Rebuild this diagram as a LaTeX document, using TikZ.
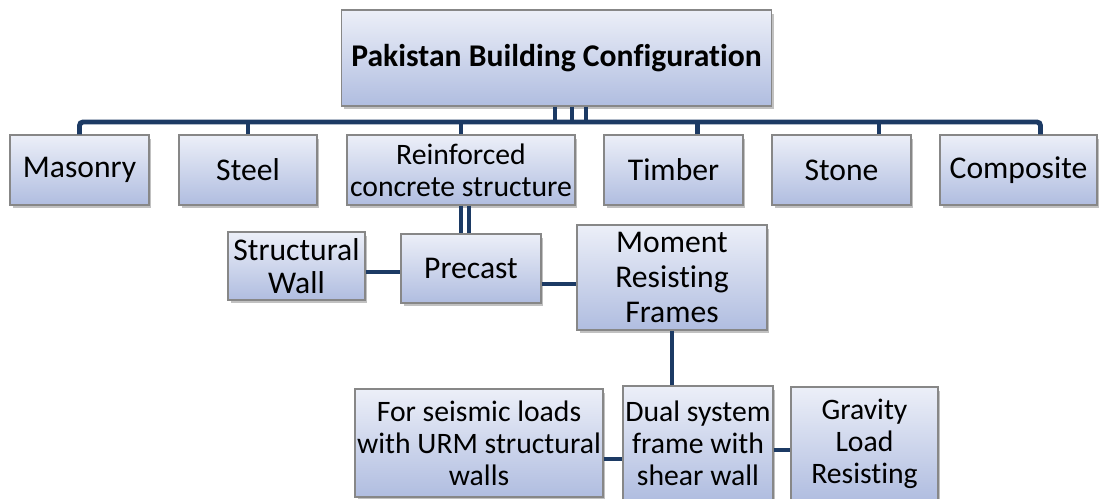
\documentclass[tikz,border=0pt]{standalone}
\usepackage{fontspec}
\setmainfont[Ligatures=NoCommon]{Carlito}
\usetikzlibrary{calc,shadows}
\definecolor{boxtop}{RGB}{236,239,248}
\definecolor{boxbot}{RGB}{176,189,224}
\definecolor{boxline}{RGB}{135,135,135}
\definecolor{linkblue}{RGB}{28,58,100}
\tikzset{
  % Boksar
  cfgbox/.style={draw=boxline,line width=0.6pt,top color=boxtop,bottom color=boxbot,
    inner sep=0pt,align=center,font=\fontsize{18}{18.5}\selectfont,
    drop shadow={shadow xshift=0.05cm,shadow yshift=-0.07cm,opacity=0.35,fill=black!70}},
  smallbox/.style={cfgbox,font=\fontsize{16.9}{18.3}\selectfont},
  titlebox/.style={cfgbox,font=\fontsize{18}{18.5}\selectfont\bfseries},
  % Linjer
  link/.style={draw=linkblue,line width=2.8pt},
  stub/.style={draw=linkblue,line width=2.4pt},
  thin link/.style={draw=linkblue,line width=1.9pt},
}

\begin{document}
\begin{tikzpicture}[x=0.02cm,y=-0.02cm]
  \clip (0,0) rectangle (1100,499);
  \useasboundingbox (0,0) rectangle (1100,499);

  \node[titlebox,minimum width=8.62cm,minimum height=1.92cm] (top) at (556.5,58) {Pakistan Building Configuration};

  \node[cfgbox,minimum width=2.78cm,minimum height=1.40cm] (masonry) at (79.5,170) {Masonry};
  \node[cfgbox,minimum width=2.76cm,minimum height=1.40cm] (steel) at (248,170) {Steel};
  \node[smallbox,minimum width=4.56cm,minimum height=1.40cm] (reinf) at (461,170) {Reinforced\\concrete structure};
  \node[cfgbox,minimum width=2.78cm,minimum height=1.40cm] (timber) at (673.5,170) {Timber};
  \node[cfgbox,minimum width=2.78cm,minimum height=1.40cm] (stone) at (841.5,170) {Stone};
  \node[cfgbox,minimum width=3.14cm,minimum height=1.40cm] (composite) at (1018.5,170) {Composite};

  \node[cfgbox,minimum width=2.74cm,minimum height=1.36cm] (wall) at (296.5,266) {Structural\\Wall};
  \node[cfgbox,minimum width=2.80cm,minimum height=1.38cm] (precast) at (471,268.5) {Precast};
  \node[cfgbox,minimum width=3.80cm,minimum height=2.10cm,font=\fontsize{18}{20}\selectfont] (moment) at (672,277.5) {Moment\\Resisting\\Frames};

  \node[smallbox,minimum width=4.96cm,minimum height=2.16cm] (seismic) at (479,443) {For seismic loads\\with URM structural\\walls};
  \node[smallbox,minimum width=3.00cm,minimum height=2.28cm] (dual) at (698,443) {Dual system\\frame with\\shear wall};
  \node[smallbox,minimum width=2.94cm,minimum height=2.28cm] (gravity) at (864.5,444) {Gravity\\Load\\Resisting};

  % samleskinne under toppboksen
  \coordinate (bus) at (0,122);
  \foreach \dx in {-0.03cm,0.31cm,0.59cm}
    \draw[stub] ([xshift=\dx]top.south) -- ([xshift=\dx]top.south |- bus);
  \draw[link,rounded corners=2pt] (masonry.north) |- ([xshift=0.44cm]composite.north |- bus) -- ([xshift=0.44cm]composite.north);
  \foreach \n/\dx in {steel/0cm,reinf/0cm,timber/0.48cm,stone/0.75cm}
    \draw[link] ([xshift=\dx]\n.north) -- ([xshift=\dx]\n.north |- bus);

  % armert betong
  \foreach \dx in {0cm,0.16cm}
    \draw[thin link] ([xshift=\dx]reinf.south) -- ([xshift=\dx]reinf.south |- precast.north);
  \draw[link] ([yshift=-0.12cm]wall.east) -- ([yshift=-0.12cm]wall.east -| precast.west);
  \draw[link] ([yshift=-0.31cm]precast.east) -- ([yshift=-0.31cm]precast.east -| moment.west);
  \draw[link] (moment.south) -- (moment.south |- dual.north);
  \draw[link] ([yshift=-0.32cm]seismic.east) -- ([yshift=-0.32cm]seismic.east -| dual.west);
  \draw[link] ([yshift=-0.14cm]dual.east) -- ([yshift=-0.14cm]dual.east -| gravity.west);
\end{tikzpicture}
\end{document}
